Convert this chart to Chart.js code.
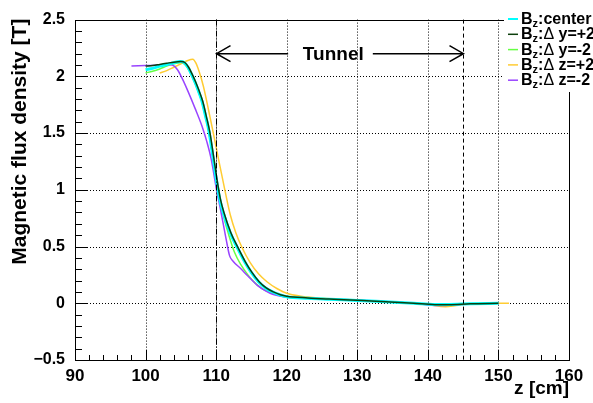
<!DOCTYPE html>
<html>
<head>
<meta charset="utf-8">
<script src="https://cdn.jsdelivr.net/npm/chart.js@4/dist/chart.umd.min.js"></script>
<style>
  html, body { margin: 0; padding: 0; background: #fff; }
  #wrap { width: 593px; height: 403px; position: relative; }
</style>
</head>
<body>
<div id="wrap"><canvas id="chart"></canvas></div>
<script>
// tick values
const xTicks = [90, 100, 110, 120, 130, 140, 150, 160];
const yTicks = [-0.5, 0, 0.5, 1, 1.5, 2, 2.5];

// legend entries
const legendLabels = ["center", "y=+2", "y=-2", "z=+2", "z=-2"];

// B_z : center
const zCenter = [100, 101, 102, 103, 104, 104.9, 105.5, 106, 106.5, 107, 107.5, 108, 108.5, 109, 109.5, 110, 110.5, 111, 112, 113, 114, 115, 116, 117, 118, 119, 120, 123, 126, 130, 134, 138, 141, 143, 146, 150];
const bCenter = [2.06, 2.07, 2.09, 2.105, 2.12, 2.13, 2.12, 2.08, 2.02, 1.95, 1.87, 1.78, 1.65, 1.51, 1.31, 1.1, 0.92, 0.8, 0.62, 0.49, 0.37, 0.27, 0.19, 0.135, 0.1, 0.075, 0.058, 0.045, 0.036, 0.025, 0.013, 0.001, -0.01, -0.01, -0.004, 0.0];

// B_z : dy = +2
const zDyPlus = [100, 101, 102, 103, 104, 105, 105.6, 106.1, 106.6, 107.1, 107.6, 108.1, 108.6, 109.1, 109.6, 110.1, 110.6, 111.1, 112.1, 113.1, 114.1, 115.1, 116.1, 117.1, 118.1, 119.1, 120, 123, 126, 130, 134, 138, 141, 143, 146, 150];
const bDyPlus = [2.09, 2.095, 2.105, 2.115, 2.125, 2.13, 2.12, 2.08, 2.02, 1.95, 1.87, 1.78, 1.65, 1.51, 1.31, 1.1, 0.92, 0.8, 0.62, 0.49, 0.37, 0.27, 0.19, 0.135, 0.1, 0.075, 0.062, 0.047, 0.037, 0.026, 0.013, 0.0, -0.012, -0.012, -0.004, 0.0];

// B_z : dy = -2
const zDyMinus = [100, 101, 102, 103, 104, 105, 105.5, 106, 106.5, 107, 107.5, 108, 108.5, 109, 109.5, 110, 110.5, 111, 111.8, 112.6, 113.5, 114.5, 115.5, 116.5, 117.5, 118.5, 120, 123, 126, 130, 134, 138, 141, 143, 146, 150];
const bDyMinus = [2.03, 2.045, 2.065, 2.09, 2.11, 2.12, 2.11, 2.07, 2.01, 1.94, 1.86, 1.77, 1.64, 1.5, 1.3, 1.09, 0.91, 0.78, 0.6, 0.45, 0.34, 0.25, 0.18, 0.13, 0.1, 0.078, 0.055, 0.044, 0.035, 0.024, 0.012, 0.0, -0.012, -0.012, -0.004, 0.0];

// B_z : dz = +2
const zDzPlus = [102, 103, 104, 105, 106, 106.7, 107.1, 107.6, 108.2, 108.9, 109.6, 110.4, 111.26, 112, 112.8, 113.6, 114.8, 116, 117.2, 118.6, 120, 122, 125, 130, 134, 138, 140, 142.5, 144, 146, 148, 150, 151.5];
const bDzPlus = [2.03, 2.05, 2.08, 2.11, 2.14, 2.15, 2.12, 2.04, 1.91, 1.71, 1.5, 1.25, 0.99, 0.78, 0.62, 0.5, 0.36, 0.26, 0.19, 0.13, 0.088, 0.062, 0.045, 0.028, 0.015, 0.0, -0.012, -0.03, -0.02, -0.005, 0.0, 0.0, 0.0];

// B_z : dz = -2
const zDzMinus = [98, 100, 102, 103, 103.8, 104.5, 105.2, 106, 107, 108, 108.7, 109.3, 110, 110.7, 111.4, 111.9, 112.4, 113.4, 114.5, 115.8, 117, 118, 120, 123, 126, 130, 134, 138, 140, 142, 144, 147, 150];
const bDzMinus = [2.09, 2.095, 2.1, 2.105, 2.1, 2.06, 1.98, 1.87, 1.72, 1.56, 1.42, 1.27, 1.02, 0.8, 0.57, 0.42, 0.37, 0.31, 0.24, 0.16, 0.11, 0.08, 0.055, 0.045, 0.038, 0.028, 0.015, 0.0, -0.015, -0.02, -0.012, -0.004, 0.0];

// tunnel marks
const tunnelStart = 110;
const tunnelEnd = 145;

const colors = ["#00ffff", "#0d3f0d", "#66ff44", "#ffcc33", "#9944ff"];

function pts(zs, bs) {
  return zs.map((z, i) => ({ x: z, y: bs[i] }));
}

function line(label, data, color, width) {
  return {
    label,
    data,
    borderColor: color,
    borderWidth: width,
    pointRadius: 0,
    fill: false,
    cubicInterpolationMode: "monotone",
  };
}

const BOLD = '"Liberation Sans", Arial, sans-serif';

const decor = {
  id: "decor",
  beforeDatasetsDraw(chart) {
    const { ctx, chartArea: a } = chart;
    const xs = chart.scales.x, ys = chart.scales.y;
    ctx.save();
    ctx.strokeStyle = "#000";
    ctx.lineWidth = 1;

    // dotted grid
    ctx.setLineDash([1, 2]);
    xTicks.slice(1, -1).forEach((v) => {
      const px = Math.round(xs.getPixelForValue(v)) + 0.5;
      ctx.beginPath();
      ctx.moveTo(px, a.top);
      ctx.lineTo(px, a.bottom);
      ctx.stroke();
    });
    yTicks.slice(1, -1).forEach((v) => {
      const py = Math.round(ys.getPixelForValue(v)) + 0.5;
      ctx.beginPath();
      ctx.moveTo(a.left, py);
      ctx.lineTo(a.right, py);
      ctx.stroke();
    });
    ctx.setLineDash([]);

    // ticks
    for (let v = 90; v <= 160; v += 2) {
      const px = Math.round(xs.getPixelForValue(v)) + 0.5;
      const len = v % 10 === 0 ? 10 : 5;
      ctx.beginPath();
      ctx.moveTo(px, a.bottom);
      ctx.lineTo(px, a.bottom - len);
      ctx.stroke();
    }
    for (let i = -5; i <= 25; i++) {
      const py = Math.round(ys.getPixelForValue(i / 10)) + 0.5;
      const len = i % 5 === 0 ? 13 : 7;
      ctx.beginPath();
      ctx.moveTo(a.left, py);
      ctx.lineTo(a.left + len, py);
      ctx.stroke();
    }
    ctx.restore();
  },
  afterDatasetsDraw(chart) {
    const { ctx, chartArea: a } = chart;
    const xs = chart.scales.x, ys = chart.scales.y;
    ctx.save();
    ctx.strokeStyle = "#000";
    ctx.fillStyle = "#000";
    ctx.lineWidth = 1;

    // tunnel boundaries
    const x1 = Math.round(xs.getPixelForValue(tunnelStart)) + 0.5;
    const x2 = Math.round(xs.getPixelForValue(tunnelEnd)) + 0.5;
    ctx.setLineDash([6, 2, 1, 2]);
    ctx.beginPath();
    ctx.moveTo(x1, a.top);
    ctx.lineTo(x1, a.bottom);
    ctx.stroke();
    ctx.setLineDash([4, 3]);
    ctx.beginPath();
    ctx.moveTo(x2, a.top);
    ctx.lineTo(x2, a.bottom);
    ctx.stroke();
    ctx.setLineDash([]);

    // arrow + label
    const ay = ys.getPixelForValue(2.2);
    const tl = xs.getPixelForValue(120.2);
    const tr = xs.getPixelForValue(132.2);
    ctx.lineWidth = 1.5;
    ctx.beginPath();
    ctx.moveTo(x1, ay); ctx.lineTo(tl, ay);
    ctx.moveTo(tr, ay); ctx.lineTo(x2, ay);
    ctx.moveTo(x1 + 14, ay - 8); ctx.lineTo(x1, ay); ctx.lineTo(x1 + 14, ay + 8);
    ctx.moveTo(x2 - 14, ay - 8); ctx.lineTo(x2, ay); ctx.lineTo(x2 - 14, ay + 8);
    ctx.stroke();
    ctx.font = "bold 19px " + BOLD;
    ctx.textAlign = "center";
    ctx.textBaseline = "alphabetic";
    ctx.fillText("Tunnel", xs.getPixelForValue(126.6), ay + 6);

    // frame
    ctx.lineWidth = 1;
    ctx.strokeRect(Math.round(a.left) + 0.5, Math.round(a.top) + 0.5,
      Math.round(a.right - a.left), Math.round(a.bottom - a.top));

    // axis titles
    ctx.font = "bold 19px " + BOLD;
    ctx.textAlign = "right";
    ctx.fillText("z [cm]", a.right, 394);
    ctx.save();
    ctx.translate(26, a.top - 1);
    ctx.rotate(-Math.PI / 2);
    ctx.font = "bold 21px " + BOLD;
    ctx.textAlign = "right";
    ctx.fillText("Magnetic flux density [T]", 0, 0);
    ctx.restore();

    // legend
    ctx.fillStyle = "#fff";
    ctx.fillRect(504, 10, 89, 82);
    legendLabels.forEach((lab, i) => {
      const base = 24 + i * 15.3;
      ctx.strokeStyle = colors[i];
      ctx.lineWidth = i === 0 ? 2 : 1.5;
      ctx.beginPath();
      ctx.moveTo(508, base - 5);
      ctx.lineTo(518, base - 5);
      ctx.stroke();
      ctx.fillStyle = "#000";
      ctx.textAlign = "left";
      let x = 521;
      ctx.font = "bold 16px " + BOLD;
      ctx.fillText("B", x, base);
      x += ctx.measureText("B").width;
      ctx.font = "bold 11px " + BOLD;
      ctx.fillText("z", x, base + 3);
      x += ctx.measureText("z").width;
      ctx.font = "bold 16px " + BOLD;
      ctx.fillText(":", x, base);
      x += ctx.measureText(":").width;
      if (i === 0) {
        ctx.fillText(lab, x, base);
      } else {
        ctx.font = "16px " + BOLD;
        ctx.fillText("\u0394", x, base);
        x += ctx.measureText("\u0394 ").width;
        ctx.font = "bold 16px " + BOLD;
        ctx.fillText(lab, x, base);
      }
    });
    ctx.restore();
  },
};

new Chart(document.getElementById("chart"), {
  type: "line",
  data: {
    datasets: [
      line("B_z:Δ y=+2", pts(zDyPlus, bDyPlus), colors[1], 1.5),
      line("B_z:center", pts(zCenter, bCenter), colors[0], 3),
      line("B_z:Δ z=-2", pts(zDzMinus, bDzMinus), colors[4], 1.5),
      line("B_z:Δ z=+2", pts(zDzPlus, bDzPlus), colors[3], 1.5),
      line("B_z:Δ y=-2", pts(zDyMinus, bDyMinus), colors[2], 1.5),
    ],
  },
  options: {
    responsive: true,
    maintainAspectRatio: false,
    animation: false,
    layout: { padding: { top: 12, right: 24, left: 0, bottom: 0 } },
    plugins: { legend: { display: false }, tooltip: { enabled: false } },
    scales: {
      x: {
        type: "linear",
        min: 90,
        max: 160,
        afterFit: (s) => { s.height = 43; },
        afterBuildTicks: (s) => { s.ticks = xTicks.map((v) => ({ value: v })); },
        grid: { display: false, drawTicks: false },
        border: { display: false },
        ticks: {
          color: "#000",
          padding: 6,
          maxRotation: 0,
          font: { family: BOLD, size: 17, weight: "bold" },
        },
      },
      y: {
        type: "linear",
        min: -0.5,
        max: 2.5,
        afterFit: (s) => { s.width = 75; },
        afterBuildTicks: (s) => { s.ticks = yTicks.map((v) => ({ value: v })); },
        grid: { display: false, drawTicks: false },
        border: { display: false },
        ticks: {
          color: "#000",
          padding: 10,
          font: { family: BOLD, size: 16, weight: "bold" },
          callback: (v) => (v < 0 ? "\u2212" + Math.abs(v) : String(v)),
        },
      },
    },
  },
  plugins: [decor],
});
</script>
</body>
</html>
